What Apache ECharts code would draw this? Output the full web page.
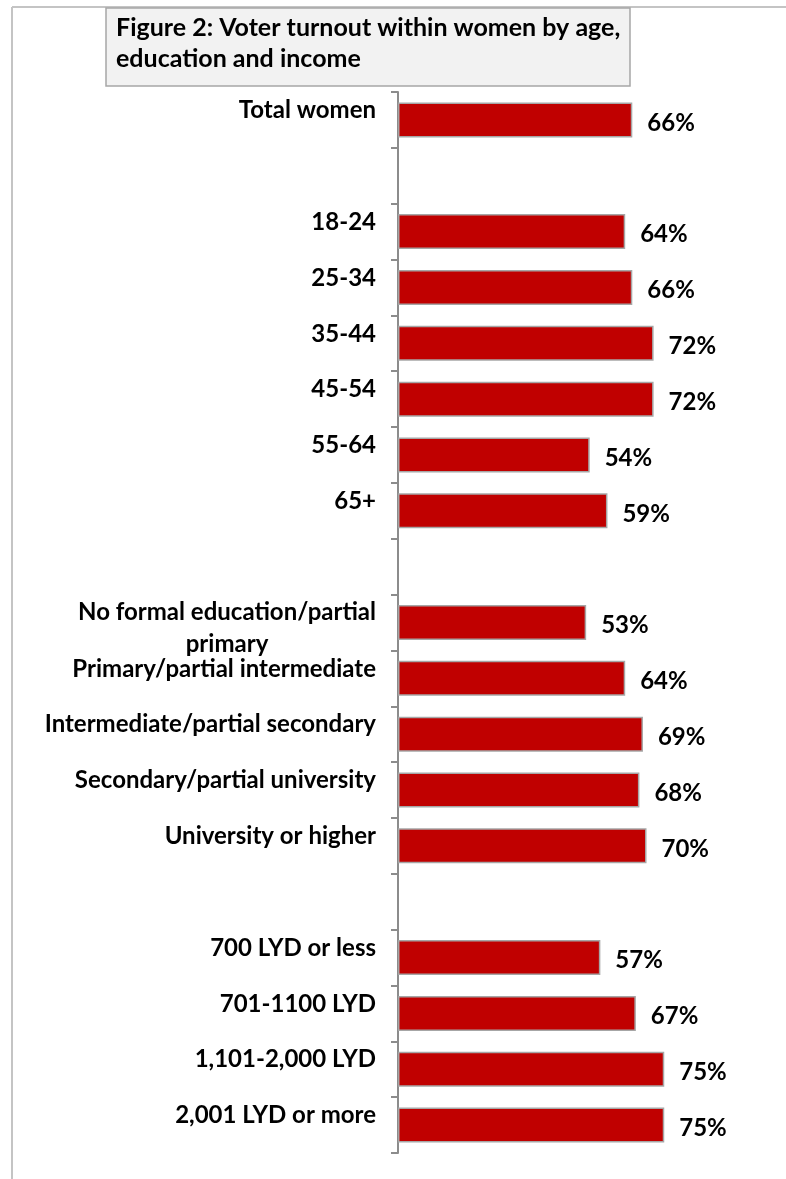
<!DOCTYPE html>
<html>
<head>
<meta charset="utf-8">
<script src="https://cdn.jsdelivr.net/npm/echarts@6/dist/echarts.min.js"></script>
<style>
  html, body { margin: 0; padding: 0; background: #fff; }
  #chart { width: 786px; height: 1179px; }
</style>
</head>
<body>
<div id="chart"></div>
<script>
// 分组之间留一个空行
var categories = [
  'Total women', '',
  '18-24', '25-34', '35-44', '45-54', '55-64', '65+', '',
  'No formal education/partial\nprimary', 'Primary/partial intermediate',
  'Intermediate/partial secondary', 'Secondary/partial university', 'University or higher', '',
  '700 LYD or less', '701-1100 LYD', '1,101-2,000 LYD', '2,001 LYD or more'
];
var turnout = [
  66, null,
  64, 66, 72, 72, 54, 59, null,
  53, 64, 69, 68, 70, null,
  57, 67, 75, 75
];
var titleLines = ['Figure 2: Voter turnout within women by age,', 'education and income'];

var FONT = 'Lato';
var chart = echarts.init(document.getElementById('chart'));

chart.setOption({
  animation: false,
  textStyle: { fontFamily: FONT },
  graphic: [
    // 外框（只露出上边和左边）
    { type: 'line', shape: { x1: 12, y1: 7, x2: 786, y2: 7 }, style: { stroke: '#c4c4c4', lineWidth: 2 } },
    { type: 'line', shape: { x1: 12, y1: 7, x2: 12, y2: 1179 }, style: { stroke: '#c4c4c4', lineWidth: 2 } },
    {
      type: 'rect',
      shape: { x: 106, y: 8, width: 524, height: 78 },
      style: { fill: '#f2f2f2', stroke: '#a6a6a6', lineWidth: 1.5 }
    },
    {
      type: 'text',
      x: 116,
      y: 12,
      style: {
        text: titleLines.join('\n'),
        font: 'bold 25px ' + FONT,
        lineHeight: 31,
        fill: '#000',
        verticalAlign: 'top'
      }
    }
  ],
  grid: { left: 398, right: 33, top: 92, bottom: 26 },
  xAxis: { type: 'value', min: 0, max: 100, show: false },
  yAxis: {
    type: 'category',
    inverse: true,
    data: categories,
    axisLine: { lineStyle: { color: '#8c8c8c', width: 2 } },
    axisTick: { show: true, interval: 0, length: 7, lineStyle: { color: '#8c8c8c', width: 2 } },
    axisLabel: {
      interval: 0,
      margin: 22,
      align: 'right',
      verticalAlign: 'middle',
      formatter: function(value) {
        if (!value) return '';
        var lines = value.split('\n');
        if (lines.length > 1) {
          return '{s| }\n' + lines.map(function(l) { return '{a|' + l + '}'; }).join('\n');
        }
        return '{a|' + value + '}\n{b| }';
      },
      rich: {
        a: { fontFamily: FONT, fontWeight: 'bold', fontSize: 24, lineHeight: 32, color: '#000', align: 'center' },
        s: { fontSize: 2, lineHeight: 12 },
        b: { fontSize: 2, lineHeight: 19 }
      }
    }
  },
  series: [
    {
      type: 'bar',
      data: turnout,
      barWidth: 35,
      itemStyle: { color: '#c00000', borderColor: '#a6a6a6', borderWidth: 1.5 },
      label: {
        show: true,
        position: 'right',
        distance: 15,
        offset: [0, 3],
        formatter: '{c}%',
        fontFamily: FONT,
        fontWeight: 'bold',
        fontSize: 24,
        color: '#000'
      }
    }
  ]
});
</script>
</body>
</html>
